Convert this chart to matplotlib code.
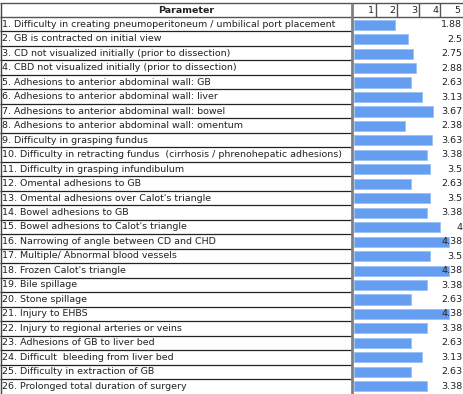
import matplotlib.pyplot as plt
from matplotlib import font_manager

parameters = [
    '1. Difficulty in creating pneumoperitoneum / umbilical port placement',
    '2. GB is contracted on initial view',
    '3. CD not visualized initially (prior to dissection)',
    '4. CBD not visualized initially (prior to dissection)',
    '5. Adhesions to anterior abdominal wall: GB',
    '6. Adhesions to anterior abdominal wall: liver',
    '7. Adhesions to anterior abdominal wall: bowel',
    '8. Adhesions to anterior abdominal wall: omentum',
    '9. Difficulty in grasping fundus',
    '10. Difficulty in retracting fundus  (cirrhosis / phrenohepatic adhesions)',
    '11. Difficulty in grasping infundibulum',
    '12. Omental adhesions to GB',
    "13. Omental adhesions over Calot's triangle",
    '14. Bowel adhesions to GB',
    "15. Bowel adhesions to Calot's triangle",
    '16. Narrowing of angle between CD and CHD',
    '17. Multiple/ Abnormal blood vessels',
    "18. Frozen Calot's triangle",
    '19. Bile spillage',
    '20. Stone spillage',
    '21. Injury to EHBS',
    '22. Injury to regional arteries or veins',
    '23. Adhesions of GB to liver bed',
    '24. Difficult  bleeding from liver bed',
    '25. Difficulty in extraction of GB',
    '26. Prolonged total duration of surgery',
]
scores = [1.88, 2.5, 2.75, 2.88, 2.63, 3.13, 3.67, 2.38, 3.63, 3.38, 3.5, 2.63, 3.5,
          3.38, 4, 4.38, 3.5, 4.38, 3.38, 2.63, 4.38, 3.38, 2.63, 3.13, 2.63, 3.38]
scale = [1, 2, 3, 4, 5]

names = {f.name for f in font_manager.fontManager.ttflist}
fam = 'Liberation Sans Narrow' if 'Liberation Sans Narrow' in names else 'DejaVu Sans'
plt.rcParams['font.family'] = [fam, 'DejaVu Sans']
fs = 6.8

W, H = 464, 394
fig = plt.figure(figsize=(W / 100, H / 100), dpi=100)

# table grid in pixel coords
tab = fig.add_axes([0, 0, 1, 1])
tab.set_xlim(0, W)
tab.set_ylim(H, 0)
tab.axis('off')

top, head_bot, row_h, sep = 3, 17, 14.48, 352
n = len(parameters)
tab.hlines([top, head_bot], 0, W, color='#555555', lw=1)
tab.hlines([head_bot + k * row_h for k in range(1, n)], 0, sep, color='#222222', lw=0.9)
tab.vlines(0.5, top, H, color='#444444', lw=1)
tab.vlines(sep, top, H, color='#808080', lw=2)
tab.text(186, (top + head_bot) / 2, 'Parameter', ha='center', va='center',
         fontsize=fs, fontweight='bold', color='#222222')
for i, p in enumerate(parameters):
    tab.text(2, head_bot + (i + 0.5) * row_h, p, ha='left', va='center', fontsize=fs,
             color='#222222')

# bar column
x0 = sep + 2
ax = fig.add_axes([sep / W, 0.5 / H, (W - sep) / W, (H - 0.5 - top) / H])
ax.set_xlim(-2 / 21.6, (W - x0) / 21.6)
ax.set_ylim(n - 0.5, -1.5)
ax.axis('off')
ax.barh(range(n), scores, height=0.7, color='#659df0', edgecolor='#9cc0f5', lw=0.6)
for i, v in enumerate(scores):
    ax.text(0.985, i, f'{v:g}', transform=ax.get_yaxis_transform(), ha='right',
            va='center', fontsize=fs, color='#222222')
ax.vlines(scale[:-1], -1.5, -0.5, color='#555555', lw=1)
for s in scale:
    ax.text(s - 0.08, -1, str(s), ha='right', va='center', fontsize=fs, color='#222222')

fig.savefig('out.png', dpi=100)
